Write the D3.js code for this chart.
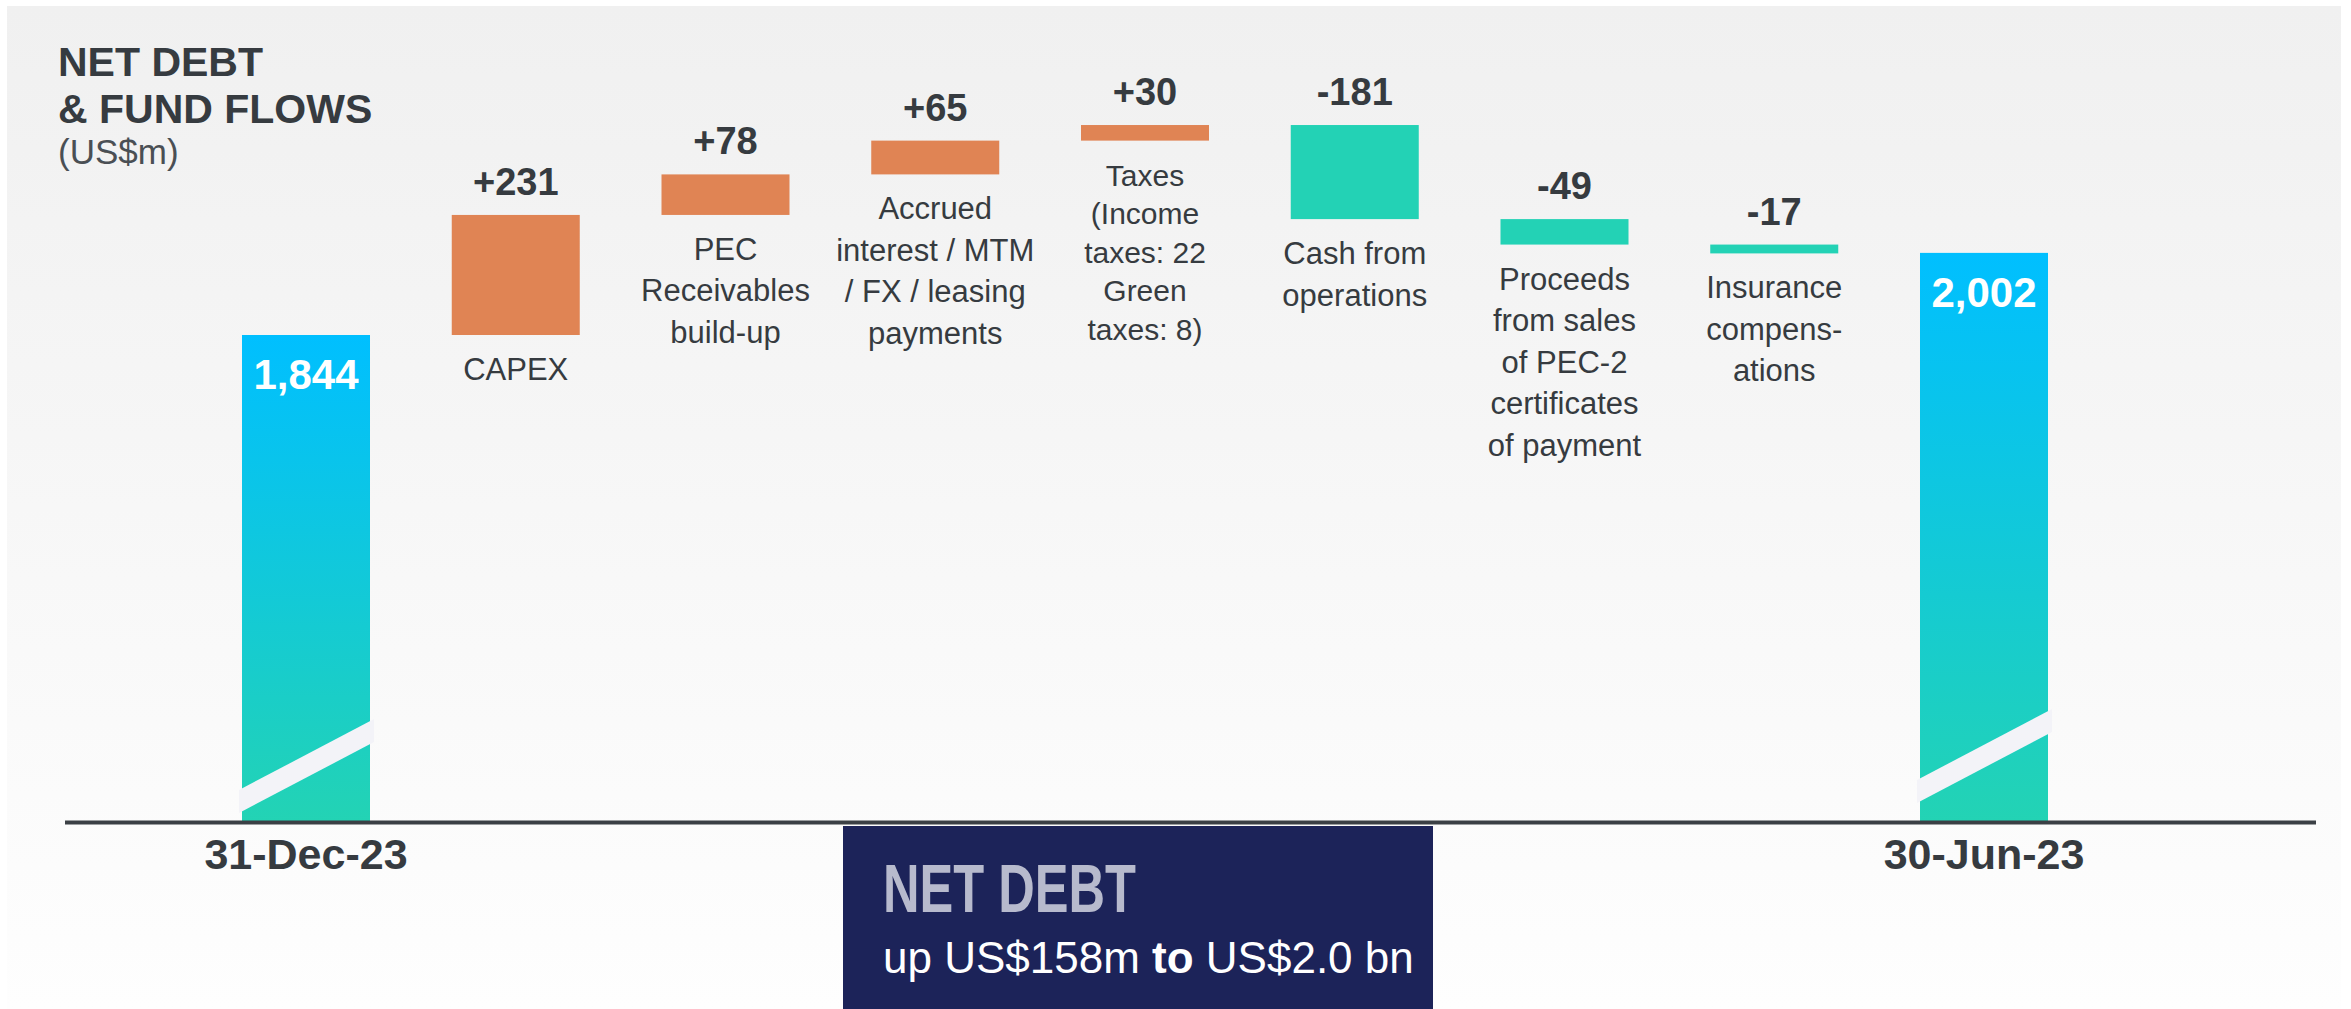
<!DOCTYPE html>
<html>
<head>
<meta charset="utf-8">
<script src="https://cdn.jsdelivr.net/npm/d3@7"></script>
<style>
  html, body { margin: 0; padding: 0; background: #ffffff; }
  svg { display: block; font-family: "Liberation Sans", Arial, sans-serif; }
</style>
</head>
<body>
<div id="chart"></div>
<script>
// ============================================================
// Data (US$m)
// ============================================================
const totalNames = ['31-Dec-23', '30-Jun-23'];
const totalValues = [1844, 2002];

const stepNames = ['CAPEX', 'PEC', 'Accrued', 'Taxes', 'Cash', 'Proceeds', 'Insurance'];
const stepValues = [231, 78, 65, 30, -181, -49, -17];
const stepLabels = [
    ['CAPEX'],
    ['PEC', 'Receivables', 'build-up'],
    ['Accrued', 'interest / MTM', '/ FX / leasing', 'payments'],
    ['Taxes', '(Income', 'taxes: 22', 'Green', 'taxes: 8)'],
    ['Cash from', 'operations'],
    ['Proceeds', 'from sales', 'of PEC-2', 'certificates', 'of payment'],
    ['Insurance', 'compens-', 'ations']
];

const titleLines = ['NET DEBT', '& FUND FLOWS'];
const unitLabel = '(US$m)';
const boxTitle = 'NET DEBT';
const boxText = ['up US$158m ', 'to', ' US$2.0 bn'];

// ============================================================
// Colours
// ============================================================
const COLORS = {
    up: '#e08454',
    down: '#23d2b5',
    totalTop: '#00bfff',
    totalBottom: '#23d3b4',
    text: '#363b40',
    axis: '#3b4045',
    box: '#1c2359',
    boxTitle: '#b7bacd',
    breakMark: '#f3f3f8'
};

const W = 2351, H = 1009;
const svg = d3.select('#chart').append('svg')
    .attr('width', W)
    .attr('height', H);

const defs = svg.append('defs');

const bg = defs.append('linearGradient')
    .attr('id', 'bg').attr('x1', 0).attr('y1', 0).attr('x2', 0).attr('y2', 1);
bg.append('stop').attr('offset', '0%').attr('stop-color', '#f0f0f0');
bg.append('stop').attr('offset', '100%').attr('stop-color', '#fefefe');

const tg = defs.append('linearGradient')
    .attr('id', 'totalGrad').attr('x1', 0).attr('y1', 0).attr('x2', 0).attr('y2', 1);
tg.append('stop').attr('offset', '0%').attr('stop-color', COLORS.totalTop);
tg.append('stop').attr('offset', '100%').attr('stop-color', COLORS.totalBottom);

svg.append('rect')
    .attr('x', 7).attr('y', 6)
    .attr('width', 2334).attr('height', H - 6)
    .attr('fill', 'url(#bg)');

// ============================================================
// Scales (axis is broken: totals run down to the baseline)
// ============================================================
const order = [totalNames[0], ...stepNames, totalNames[1]];
const x = d3.scalePoint().domain(order).range([306, 1984]);
const y = d3.scaleLinear().domain([907, 2300]).range([822, 98]);
const barW = 128;
const baseY = y(907);

// running sums for the waterfall
let run = totalValues[0];
const steps = stepNames.map((name, i) => {
    const start = run;
    run += stepValues[i];
    return { name, value: stepValues[i], start, end: run, lines: stepLabels[i] };
});

// ============================================================
// Total bars
// ============================================================
const totals = totalNames.map((name, i) => ({ name, value: totalValues[i] }));

svg.selectAll('.total')
    .data(totals)
    .join('rect')
    .attr('class', 'total')
    .attr('x', d => x(d.name) - barW / 2)
    .attr('y', d => y(d.value))
    .attr('width', barW)
    .attr('height', d => baseY - y(d.value))
    .attr('fill', 'url(#totalGrad)');

// break marks
const breakOffsets = [9, 19];
svg.selectAll('.break')
    .data(totals)
    .join('path')
    .attr('class', 'break')
    .attr('fill', COLORS.breakMark)
    .attr('d', (d, i) => {
        const l = x(d.name) - barW / 2 - 3, r = x(d.name) + barW / 2 + 4;
        const yb = baseY - breakOffsets[i];
        return `M${l},${yb} L${l},${yb - 23} L${r},${yb - 94} L${r},${yb - 71} Z`;
    });

svg.selectAll('.totalLabel')
    .data(totals)
    .join('text')
    .attr('class', 'totalLabel')
    .attr('x', d => x(d.name))
    .attr('y', d => y(d.value) + 54)
    .attr('text-anchor', 'middle')
    .attr('fill', '#ffffff')
    .attr('font-weight', 'bold')
    .attr('font-size', 42)
    .text(d => d3.format(',')(d.value));

svg.selectAll('.dateLabel')
    .data(totals)
    .join('text')
    .attr('class', 'dateLabel')
    .attr('x', d => x(d.name))
    .attr('y', 869)
    .attr('text-anchor', 'middle')
    .attr('fill', COLORS.text)
    .attr('font-weight', 'bold')
    .attr('font-size', 43)
    .text(d => d.name);

// ============================================================
// Step bars
// ============================================================
svg.selectAll('.step')
    .data(steps)
    .join('rect')
    .attr('class', 'step')
    .attr('x', d => x(d.name) - barW / 2)
    .attr('y', d => y(Math.max(d.start, d.end)))
    .attr('width', barW)
    .attr('height', d => Math.abs(y(d.start) - y(d.end)))
    .attr('fill', d => d.value > 0 ? COLORS.up : COLORS.down);

svg.selectAll('.stepValue')
    .data(steps)
    .join('text')
    .attr('class', 'stepValue')
    .attr('x', d => x(d.name))
    .attr('y', d => y(Math.max(d.start, d.end)) - 20)
    .attr('text-anchor', 'middle')
    .attr('fill', COLORS.text)
    .attr('font-weight', 'bold')
    .attr('font-size', 38)
    .text(d => (d.value > 0 ? '+' : '-') + Math.abs(d.value));

const labels = svg.selectAll('.stepLabel')
    .data(steps)
    .join('text')
    .attr('class', 'stepLabel')
    .attr('text-anchor', 'middle')
    .attr('fill', COLORS.text)
    .attr('font-size', d => d.name === 'Taxes' ? 30 : 31)
    .attr('y', d => y(Math.min(d.start, d.end)) + 45);

labels.selectAll('tspan')
    .data(d => d.lines.map((t, i) => ({ t, i, d })))
    .join('tspan')
    .attr('x', o => x(o.d.name))
    .attr('dy', o => o.i === 0 ? 0 : (o.d.name === 'Taxes' ? 38.5 : 41.5))
    .text(o => o.t);

// ============================================================
// Baseline
// ============================================================
svg.append('line')
    .attr('x1', 65).attr('x2', 2316)
    .attr('y1', 822.5).attr('y2', 822.5)
    .attr('stroke', COLORS.axis)
    .attr('stroke-width', 4);

// ============================================================
// Title
// ============================================================
svg.selectAll('.title')
    .data(titleLines)
    .join('text')
    .attr('class', 'title')
    .attr('x', 58)
    .attr('y', (d, i) => 76 + i * 47)
    .attr('fill', COLORS.text)
    .attr('font-weight', 'bold')
    .attr('font-size', 41)
    .text(d => d);

svg.append('text')
    .attr('x', 58).attr('y', 164)
    .attr('fill', '#4a4f54')
    .attr('font-size', 35)
    .text(unitLabel);

// ============================================================
// Summary box
// ============================================================
svg.append('rect')
    .attr('x', 843).attr('y', 826)
    .attr('width', 590).attr('height', H - 826)
    .attr('fill', COLORS.box);

svg.append('text')
    .attr('x', 883).attr('y', 912)
    .attr('fill', COLORS.boxTitle)
    .attr('font-weight', 'bold')
    .attr('font-size', 68)
    .attr('textLength', 253)
    .attr('lengthAdjust', 'spacingAndGlyphs')
    .text(boxTitle);

const sub = svg.append('text')
    .attr('x', 883).attr('y', 973)
    .attr('fill', '#ffffff')
    .attr('font-size', 44);
sub.selectAll('tspan')
    .data(boxText)
    .join('tspan')
    .attr('font-weight', (d, i) => i === 1 ? 'bold' : 'normal')
    .text(d => d);
</script>
</body>
</html>
